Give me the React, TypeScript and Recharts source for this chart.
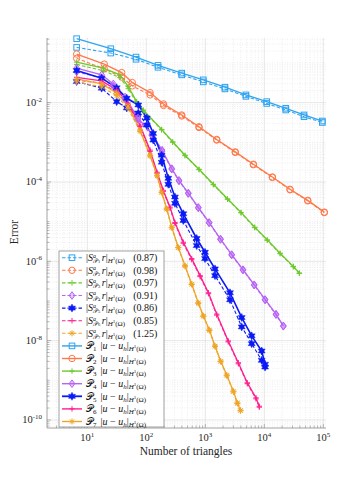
import React from 'react';
import { LineChart, Line, XAxis, YAxis, ReferenceLine } from 'recharts';

// ---------------- data (number of triangles, errors, estimators) ----------------
const tri1 = [6.6, 25, 67, 158, 398, 925, 2150, 4880, 11000, 23100, 47100, 96200];
const err1 = [0.41, 0.229, 0.141, 0.0871, 0.0555, 0.0376, 0.0245, 0.0157, 0.0106, 0.00721, 0.00489, 0.00344];
const est1 = [0.247, 0.178, 0.124, 0.0778, 0.0502, 0.0334, 0.0222, 0.0144, 0.00955, 0.00653, 0.00442, 0.00316];

const tri2 = [6.6, 19.4, 38.3, 57.9, 116, 196, 398, 782, 1560, 3220, 6520, 13700, 27300, 54500, 104000];
const err2 = [0.168, 0.0938, 0.0574, 0.0321, 0.0179, 0.00927, 0.00489, 0.00247, 0.00118, 5.74e-4, 2.81e-4, 1.34e-4, 6.53e-5, 3.44e-5, 1.74e-5];
const est2 = [0.131, 0.0713, 0.044, 0.0265, 0.0157, 0.00849, 0.0046, 0.00236, 0.00114, 5.55e-4, 2.72e-4, 1.3e-4, 6.35e-5, 3.34e-5, 1.69e-5];

const tri3 = [6.6, 18.7, 35.8, 49.5, 68.7, 88.9, 182, 280, 453, 782, 1370, 2380, 4030, 6870, 11200, 18500, 31000, 39200];
const err3 = [0.105, 0.0743, 0.0502, 0.0254, 0.0106, 0.00653, 0.00212, 0.00103, 4.74e-4, 2.1e-4, 8.75e-5, 3.76e-5, 1.71e-5, 7.26e-6, 3.48e-6, 1.6e-6, 7.46e-7, 5.08e-7];
const est3 = [0.092, 0.064, 0.043, 0.0225, 0.0098, 0.0062, 0.00205, 0.001, 4.6e-4, 2.04e-4, 8.5e-5, 3.65e-5, 1.66e-5, 7.05e-6, 3.38e-6, 1.55e-6, 7.25e-7, 4.95e-7];

const tri4 = [6.6, 17.5, 27.6, 43.6, 72.3, 124, 185, 270, 358, 515, 760, 1160, 1810, 2800, 4350, 6740, 10300, 15800, 21000];
const err4 = [0.0743, 0.0502, 0.0297, 0.0139, 0.0041, 0.00161, 6.35e-4, 2.18e-4, 1.1e-4, 5.27e-5, 2.29e-5, 9.55e-6, 3.65e-6, 1.48e-6, 6.17e-7, 2.57e-7, 1.09e-7, 4.66e-8, 2.36e-8];
const est4 = [0.06, 0.042, 0.026, 0.0125, 0.0038, 0.0015, 6.0e-4, 2.1e-4, 1.06e-4, 5.1e-5, 2.22e-5, 9.3e-6, 3.55e-6, 1.44e-6, 6.0e-7, 2.5e-7, 1.06e-7, 4.5e-8, 2.3e-8];

const tri5 = [6.6, 17.5, 31.5, 46.6, 73.1, 102, 131, 182, 236, 306, 424, 714, 988, 1460, 2620, 4140, 6110, 9030, 10300];
const err5 = [0.0646, 0.0415, 0.0236, 0.0129, 0.00875, 0.0041, 0.00168, 4.74e-4, 1.24e-4, 4.17e-5, 1.58e-5, 3.76e-6, 1.69e-6, 6.43e-7, 1.61e-7, 3.82e-8, 1.32e-8, 5.48e-9, 2.53e-9];
const est5 = [0.034, 0.0232, 0.0106, 0.00735, 0.00548, 0.00272, 0.00114, 3.15e-4, 8.75e-5, 2.89e-5, 1.07e-5, 2.49e-6, 1.17e-6, 4.35e-7, 1.07e-7, 2.22e-8, 8.4e-9, 3.19e-9, 2.16e-9];

const tri6 = [6.6, 17.5, 31.5, 49, 78.2, 116, 152, 194, 252, 306, 424, 588, 817, 1130, 1560, 2450, 3630, 5150, 7230, 8220];
const err6 = [0.0435, 0.0354, 0.021, 0.0098, 0.00272, 6.35e-4, 1.76e-4, 6.17e-5, 2.33e-5, 9.55e-6, 3.03e-6, 1.17e-6, 4.35e-7, 1.61e-7, 4.66e-8, 9.82e-9, 2.77e-9, 8.65e-10, 3.61e-10, 2.22e-10];
const est6 = [0.0372, 0.031, 0.0185, 0.0088, 0.0025, 5.9e-4, 1.65e-4, 5.8e-5, 2.2e-5, 9.0e-6, 2.85e-6, 1.1e-6, 4.1e-7, 1.52e-7, 4.4e-8, 9.3e-9, 2.6e-9, 8.2e-10, 3.4e-10, 2.1e-10];

const tri7 = [6.6, 17.5, 31.5, 49, 78.2, 116, 152, 182, 222, 270, 348, 453, 588, 760, 925, 1170, 1460, 1820, 2310, 2990, 3490, 3950];
const err7 = [0.0398, 0.0297, 0.0176, 0.00824, 0.00204, 4.74e-4, 1.48e-4, 5.58e-5, 2.12e-5, 7.26e-6, 2.26e-6, 7.78e-7, 2.68e-7, 9.0e-8, 4.22e-8, 1.87e-8, 7.35e-9, 3.06e-9, 1.36e-9, 5.33e-10, 2.69e-10, 1.76e-10];
const est7 = [0.0335, 0.025, 0.015, 0.0072, 0.0019, 4.5e-4, 1.42e-4, 5.4e-5, 2.05e-5, 7.0e-6, 2.2e-6, 7.5e-7, 2.6e-7, 8.7e-8, 4.1e-8, 1.8e-8, 7.1e-9, 2.95e-9, 1.3e-9, 5.1e-10, 2.6e-10, 1.7e-10];

const rates = ['0.87', '0.98', '0.97', '0.91', '0.86', '0.85', '1.25'];
const xTicks = [10, 100, 1000, 10000, 100000];
const yTicks = [1e-10, 1e-8, 1e-6, 1e-4, 1e-2];

// ---------------- styling ----------------
type Shape = 'square' | 'circle' | 'plus' | 'diamond' | 'hexagram' | 'asterisk';
const COLORS = ['#2FA4F0', '#FF7849', '#6DC92D', '#B763F5', '#0A1AF5', '#FF1F8F', '#EFA526'];
const SHAPES: Shape[] = ['square', 'circle', 'plus', 'diamond', 'hexagram', 'plus', 'asterisk'];
const SERIES = [
  { tri: tri1, err: err1, est: est1 },
  { tri: tri2, err: err2, est: est2 },
  { tri: tri3, err: err3, est: est3 },
  { tri: tri4, err: err4, est: est4 },
  { tri: tri5, err: err5, est: est5 },
  { tri: tri6, err: err6, est: est6 },
  { tri: tri7, err: err7, est: est7 },
];

const X_DOMAIN: [number, number] = [2.075, 111000];
const Y_DOMAIN: [number, number] = [6.27e-11, 0.4266];
const PX_PER_DEC_X = 59;
const PX_PER_DEC_Y = 39.6;
const FONT = '"Liberation Serif", "DejaVu Serif", serif';
const MATHFONT = '"Liberation Serif", "DejaVu Serif", "DejaVu Sans", serif';

function Marker({ cx, cy, shape, color }: { cx: number; cy: number; shape: Shape; color: string }) {
  switch (shape) {
    case 'square': {
      const h = 2.8;
      return <rect x={cx - h} y={cy - h} width={2 * h} height={2 * h} fill="none" stroke={color} strokeWidth={1} />;
    }
    case 'circle':
      return <circle cx={cx} cy={cy} r={3.2} fill="none" stroke={color} strokeWidth={1} />;
    case 'plus': {
      const h = 2.7;
      return <path d={`M${cx - h},${cy}H${cx + h}M${cx},${cy - h}V${cy + h}`} stroke={color} strokeWidth={1} fill="none" />;
    }
    case 'diamond': {
      const h = 3.8, w = 2.8;
      return (
        <path d={`M${cx},${cy - h}L${cx + w},${cy}L${cx},${cy + h}L${cx - w},${cy}Z`} fill={color} fillOpacity={0.35} stroke={color} strokeWidth={1} />
      );
    }
    case 'hexagram': {
      const pts: string[] = [];
      for (let k = 0; k < 12; k++) {
        const a = ((-90 + k * 30) * Math.PI) / 180;
        const r = k % 2 === 0 ? 4 : 2.2;
        pts.push(`${cx + r * Math.cos(a)},${cy + r * Math.sin(a)}`);
      }
      return <polygon points={pts.join(' ')} fill={color} stroke={color} strokeWidth={0.5} />;
    }
    case 'asterisk': {
      const h = 3, d = 2.1;
      return (
        <path
          d={`M${cx - h},${cy}H${cx + h}M${cx},${cy - h}V${cy + h}M${cx - d},${cy - d}L${cx + d},${cy + d}M${cx - d},${cy + d}L${cx + d},${cy - d}`}
          stroke={color}
          strokeWidth={1}
          fill="none"
        />
      );
    }
  }
  return null;
}

const makeDot = (shape: Shape, color: string) => (p: any) => {
  const key = `d${p.index}`;
  if (p.cx == null || p.cy == null || isNaN(p.cx) || isNaN(p.cy)) return <g key={key} />;
  return (
    <g key={key}>
      <Marker cx={p.cx} cy={p.cy} shape={shape} color={color} />
    </g>
  );
};

const XTick = (props: any) => {
  const { x, y, payload } = props;
  const e = Math.round(Math.log10(payload.value));
  return (
    <text x={x} y={y + 13} textAnchor="middle" fontFamily={FONT} fontSize={10.5} fill="#262626">
      10<tspan fontSize={7} dy={-4.5}>{e}</tspan>
    </text>
  );
};

const YTick = (props: any) => {
  const { x, y, payload } = props;
  const e = Math.round(Math.log10(payload.value));
  return (
    <text x={x - 5} y={y + 3.5} textAnchor="end" fontFamily={FONT} fontSize={10.5} fill="#262626">
      10<tspan fontSize={7} dy={-4.5}>{e}</tspan>
    </text>
  );
};

// grid values
const xGrid: { v: number; major: boolean }[] = [];
for (let k = 0; k <= 5; k++)
  for (let j = 1; j <= 9; j++) {
    const v = j * Math.pow(10, k);
    if (v >= X_DOMAIN[0] && v <= X_DOMAIN[1]) xGrid.push({ v, major: j === 1 });
  }
const yGrid: { v: number; major: boolean }[] = [];
for (let k = -11; k <= 0; k++)
  for (let j = 1; j <= 9; j++) {
    const v = j * Math.pow(10, k);
    if (v >= Y_DOMAIN[0] && v <= Y_DOMAIN[1]) yGrid.push({ v, major: j === 1 && k % 2 === 0 });
  }

function EstLabel({ x, y, n, rate }: { x: number; y: number; n: number; rate: string }) {
  return (
    <text x={x} y={y} fontFamily={MATHFONT} fontSize={10} fill="#111">
      <tspan>|</tspan>
      <tspan fontStyle="italic">S</tspan>
      <tspan fontSize={6} fontStyle="italic" dy={-3.5}>a</tspan>
      <tspan fontSize={6.5} dx={-3} dy={5.5}>𝒫</tspan>
      <tspan fontSize={4.5}>{n}</tspan>
      <tspan fontStyle="italic" dy={-2} dx={1.5}>r</tspan>
      <tspan>|</tspan>
      <tspan fontSize={7} fontStyle="italic" dy={2}>H</tspan>
      <tspan fontSize={5} dy={-3}>1</tspan>
      <tspan fontSize={7} dy={3}>(Ω)</tspan>
      <tspan dy={-2} dx={8}>({rate})</tspan>
    </text>
  );
}

function ErrLabel({ x, y, n }: { x: number; y: number; n: number }) {
  return (
    <text x={x} y={y} fontFamily={MATHFONT} fontSize={10} fill="#111">
      <tspan>𝒫</tspan>
      <tspan fontSize={7} dy={2}>{n}</tspan>
      <tspan dy={-2} dx={4}>|</tspan>
      <tspan fontStyle="italic">u</tspan>
      <tspan dx={2.5}>−</tspan>
      <tspan fontStyle="italic" dx={2.5}>u</tspan>
      <tspan fontSize={7} fontStyle="italic" dy={2}>h</tspan>
      <tspan dy={-2}>|</tspan>
      <tspan fontSize={7} fontStyle="italic" dy={2}>H</tspan>
      <tspan fontSize={5} dy={-3}>1</tspan>
      <tspan fontSize={7} dy={3}>(Ω)</tspan>
    </text>
  );
}

function Legend() {
  const x0 = 59, y0 = 251, w = 105, h = 176;
  const rows: React.ReactNode[] = [];
  for (let i = 0; i < 14; i++) {
    const s = i % 7;
    const dashed = i < 7;
    const ry = 257.7 + i * 12.6;
    const color = COLORS[s];
    rows.push(
      <g key={i}>
        <line x1={62} x2={82} y1={ry} y2={ry} stroke={color} strokeWidth={dashed ? 1.1 : s === 4 ? 1.8 : 1.4} strokeDasharray={dashed ? '3.5 2' : undefined} />
        <Marker cx={72} cy={ry} shape={SHAPES[s]} color={color} />
        {dashed ? <EstLabel x={86} y={ry + 3.3} n={s + 1} rate={rates[s]} /> : <ErrLabel x={86} y={ry + 3.3} n={s + 1} />}
      </g>
    );
  }
  return (
    <svg width={360} height={482} style={{ position: 'absolute', left: 0, top: 0, pointerEvents: 'none' }}>
      <rect x={x0} y={y0} width={w} height={h} fill="#fff" stroke="#8a8a8a" strokeWidth={0.8} />
      {rows}
    </svg>
  );
}

export default function App() {
  const tickLen = 4;
  const minorLen = 2.5;
  return (
    <div style={{ position: 'absolute', left: 0, top: 0, width: 360, height: 482, background: '#fff' }}>
      <LineChart width={360} height={482} margin={{ top: 38, right: 34, bottom: 30, left: 7 }}>
        <XAxis
          dataKey="x"
          type="number"
          scale="log"
          domain={X_DOMAIN}
          ticks={xTicks}
          tick={<XTick />}
          tickLine={false}
          tickSize={0}
          tickMargin={0}
          height={24}
          axisLine={{ stroke: '#8c8c8c', strokeWidth: 0.8 }}
          interval={0}
        />
        <YAxis
          dataKey="y"
          type="number"
          scale="log"
          domain={Y_DOMAIN}
          ticks={yTicks}
          tick={<YTick />}
          tickLine={false}
          tickSize={0}
          tickMargin={0}
          width={40}
          axisLine={{ stroke: '#8c8c8c', strokeWidth: 0.8 }}
          interval={0}
        />
        {xGrid.map((g, i) => (
          <ReferenceLine
            key={`xg${i}`}
            x={g.v}
            stroke={g.major ? '#dcdcdc' : '#e2e2e2'}
            strokeWidth={g.major ? 0.7 : 0.6}
            strokeDasharray={g.major ? undefined : '1 1.5'}
          />
        ))}
        {yGrid.map((g, i) => (
          <ReferenceLine
            key={`yg${i}`}
            y={g.v}
            stroke={g.major ? '#dcdcdc' : '#e2e2e2'}
            strokeWidth={g.major ? 0.7 : 0.6}
            strokeDasharray={g.major ? undefined : '1 1.5'}
          />
        ))}
        {yGrid.map((g, i) => (
          <ReferenceLine
            key={`yt${i}`}
            ifOverflow="visible"
            segment={[
              { x: X_DOMAIN[0], y: g.v },
              { x: X_DOMAIN[0] * Math.pow(10, (g.major ? tickLen : minorLen) / PX_PER_DEC_X), y: g.v },
            ]}
            stroke="#8c8c8c"
            strokeWidth={0.6}
          />
        ))}
        {xGrid.map((g, i) => (
          <ReferenceLine
            key={`xt${i}`}
            ifOverflow="visible"
            segment={[
              { x: g.v, y: Y_DOMAIN[0] },
              { x: g.v, y: Y_DOMAIN[0] * Math.pow(10, (g.major ? tickLen : minorLen) / PX_PER_DEC_Y) },
            ]}
            stroke="#8c8c8c"
            strokeWidth={0.6}
          />
        ))}
        {SERIES.map((s, i) => (
          <Line
            key={`est${i}`}
            data={s.tri.map((t, k) => ({ x: t, y: s.est[k] }))}
            dataKey="y"
            stroke={COLORS[i]}
            strokeWidth={1.1}
            strokeDasharray="3.5 2"
            dot={makeDot(SHAPES[i], COLORS[i])}
            activeDot={false}
            isAnimationActive={false}
            type="linear"
          />
        ))}
        {SERIES.map((s, i) => (
          <Line
            key={`err${i}`}
            data={s.tri.map((t, k) => ({ x: t, y: s.err[k] }))}
            dataKey="y"
            stroke={COLORS[i]}
            strokeWidth={i === 4 ? 1.6 : 1.3}
            dot={makeDot(SHAPES[i], COLORS[i])}
            activeDot={false}
            isAnimationActive={false}
            type="linear"
          />
        ))}
      </LineChart>
      <svg width={360} height={482} style={{ position: 'absolute', left: 0, top: 0, pointerEvents: 'none' }}>
        <text x={186} y={455} textAnchor="middle" fontFamily={FONT} fontSize={11.5} fill="#262626">
          Number of triangles
        </text>
        <text x={18} y={232} textAnchor="middle" fontFamily={FONT} fontSize={11.5} fill="#262626" transform="rotate(-90 18 232)">
          Error
        </text>
      </svg>
      <Legend />
    </div>
  );
}
